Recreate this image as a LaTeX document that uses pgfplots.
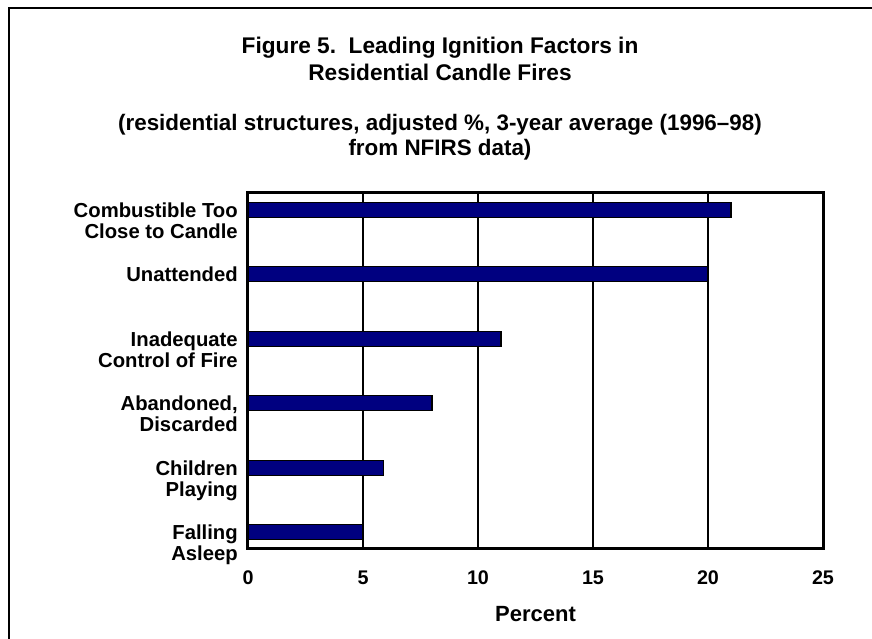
\documentclass[border=0pt]{standalone}
\usepackage{pgfplots}
\pgfplotsset{compat=1.18}
\usepackage{fontspec}
\setmainfont{Liberation Sans}
\definecolor{barnavy}{RGB}{0,0,128}
\begin{document}
\begin{tikzpicture}[x=1pt,y=1pt]
\useasboundingbox (0,0) rectangle (654,479.25);
\draw[line width=2pt] (6.75,-5) -- (6.75,473.25) -- (660,473.25);
\node[font=\bfseries\fontsize{17}{20.25}\selectfont, align=center] at (330,435.4) {Figure 5.\ \ Leading Ignition Factors in\\Residential Candle Fires};
\node[font=\bfseries\fontsize{16.8}{18.75}\selectfont, align=center] at (330,376.1) {(residential structures, adjusted \%, 3-year average (1996–98)\\from NFIRS data)};
\begin{axis}[
  at={(186pt,67.5pt)}, anchor=south west, scale only axis,
  width=431.25pt, height=267pt,
  xmin=0, xmax=25, ymin=-0.26, ymax=5.26,
  xbar, bar width=11.25pt,
  xtick={0,5,...,25}, ytick={0,1,2,3,4,5},
  yticklabels={{Falling\\Asleep},{Children\\Playing},{Abandoned,\\Discarded},{Inadequate\\Control of Fire},{Unattended},{Combustible Too\\Close to Candle}},
  major tick length=0pt,
  xmajorgrids, grid style={black, line width=1.5pt},
  axis line style={line width=2.25pt},
  /pgf/number format/assume math mode=true,
  xticklabel style={font=\bfseries\fontsize{14.8}{17.5}\selectfont, inner sep=0pt, text height=10.6pt, text depth=0pt, anchor=north, yshift=-16pt},
  yticklabel style={font=\bfseries\fontsize{15.2}{15.75}\selectfont, align=right, anchor=north east, inner sep=0pt, xshift=-7.5pt, yshift=5.5pt},
  xlabel={Percent},
  xlabel style={font=\bfseries\fontsize{16.5}{18}\selectfont, at={(axis description cs:0.5,0)}, anchor=center, yshift=-48.5pt},
]
\addplot[fill=barnavy, draw=black, line width=1.1pt] coordinates {(5,0) (5.9,1) (8,2) (11,3) (20,4) (21,5)};
\end{axis}
\end{tikzpicture}
\end{document}
